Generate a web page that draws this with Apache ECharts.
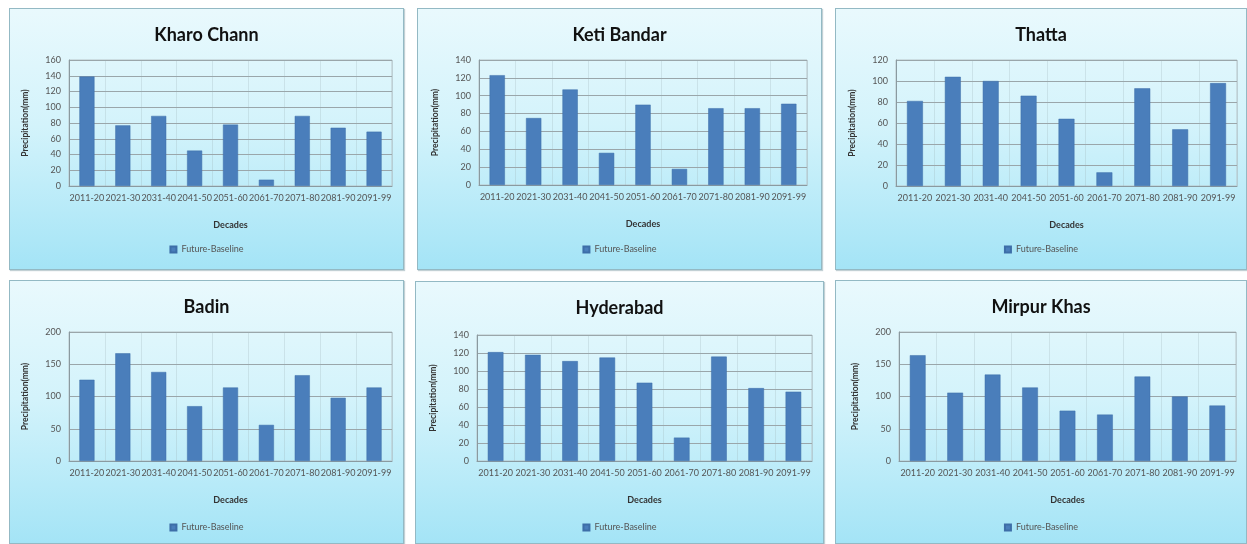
<!DOCTYPE html>
<html>
<head>
<meta charset="utf-8">
<script src="https://cdn.jsdelivr.net/npm/echarts@6/dist/echarts.min.js"></script>
<style>
  html, body { margin: 0; padding: 0; background: #ffffff; }
  body { width: 1247px; height: 544px; position: relative; overflow: hidden; }
  .panel {
    position: absolute;
    box-sizing: border-box;
    border: 1px solid #93b9c4;
    background: linear-gradient(to bottom, #e9f9fd 0%, #d3f3fb 45%, #a4e4f6 100%);
    box-shadow: 1px 1px 1px rgba(120,150,160,0.45);
  }
</style>
</head>
<body>
<div id="p1" class="panel" style="left:9px;top:8px;width:395px;height:262px;"></div>
<div id="p2" class="panel" style="left:417px;top:8px;width:405px;height:262px;"></div>
<div id="p3" class="panel" style="left:835px;top:8px;width:412px;height:262px;"></div>
<div id="p4" class="panel" style="left:9px;top:280px;width:395px;height:264px;"></div>
<div id="p5" class="panel" style="left:415px;top:281px;width:409px;height:263px;"></div>
<div id="p6" class="panel" style="left:835px;top:280px;width:412px;height:264px;"></div>
<script>
// Decade categories shared by every station
const categories = ['2011-20', '2021-30', '2031-40', '2041-50', '2051-60', '2061-70', '2071-80', '2081-90', '2091-99'];

// Future minus baseline precipitation (mm) per station
const kharoChann = [139, 77, 89, 45, 78, 8, 89, 74, 69];
const ketiBandar = [123, 75, 107, 36, 90, 18, 86, 86, 91];
const thatta     = [81, 104, 100, 86, 64, 13, 93, 54, 98];
const badin      = [126, 167, 138, 85, 114, 56, 133, 98, 114];
const hyderabad  = [121, 118, 111, 115, 87, 26, 116, 81, 77];
const mirpurKhas = [164, 106, 134, 114, 78, 72, 131, 100, 86];

// Station names and y-axis tick ranges
const stationNames = ['Kharo Chann', 'Keti Bandar', 'Thatta', 'Badin', 'Hyderabad', 'Mirpur Khas'];
const yMax      = [160, 140, 120, 200, 140, 200];
const yInterval = [20, 20, 20, 50, 20, 50];

const seriesName = 'Future-Baseline';
const stationData = [kharoChann, ketiBandar, thatta, badin, hyderabad, mirpurKhas];

// Plot-area placement inside each panel
const layouts = [
  { left: 59, right: 11, top: 51, bottom: 83, legendBottom: 10 },
  { left: 61, right: 14, top: 51, bottom: 84, legendBottom: 10 },
  { left: 60, right: 9,  top: 51, bottom: 83, legendBottom: 10 },
  { left: 59, right: 11, top: 51, bottom: 82, legendBottom: 6 },
  { left: 61, right: 11, top: 53, bottom: 82, legendBottom: 6 },
  { left: 63, right: 10, top: 51, bottom: 82, legendBottom: 6 }
];

const FONT = 'Lato, "Open Sans", sans-serif';

function buildOption(i) {
  const L = layouts[i];
  return {
    animation: false,
    textStyle: { fontFamily: FONT },
    title: {
      text: stationNames[i],
      left: 'center',
      top: 12,
      textStyle: { fontFamily: FONT, fontSize: 18, fontWeight: 'bold', color: '#111' }
    },
    legend: {
      data: [seriesName],
      bottom: L.legendBottom,
      left: 'center',
      itemWidth: 6,
      itemHeight: 6,
      itemGap: 4,
      icon: 'rect',
      textStyle: { fontFamily: FONT, fontSize: 9, color: '#555' }
    },
    grid: {
      left: L.left, right: L.right, top: L.top, bottom: L.bottom,
      show: true, borderColor: '#b8c4c8', borderWidth: 1, backgroundColor: 'transparent'
    },
    xAxis: {
      type: 'category',
      data: categories,
      name: 'Decades',
      nameLocation: 'middle',
      nameGap: 35,
      nameTextStyle: { fontFamily: FONT, fontSize: 9, fontWeight: 'bold', color: '#333' },
      axisLine: { lineStyle: { color: '#8a9aa0' } },
      axisTick: { show: false },
      axisLabel: {
        interval: 0, hideOverlap: false, fontSize: 9, color: '#555', margin: 8,
        fontFamily: FONT
      },
      splitLine: { show: true, interval: 0, lineStyle: { color: 'rgba(150,170,175,0.25)', width: 1 } }
    },
    yAxis: {
      type: 'value',
      min: 0,
      max: yMax[i],
      interval: yInterval[i],
      name: 'Precipitation(mm)',
      nameLocation: 'middle',
      nameRotate: 90,
      nameGap: 39,
      nameTextStyle: { fontFamily: FONT, fontSize: 8.5, fontWeight: 'bold', color: '#333' },
      axisLine: { show: true, lineStyle: { color: '#8a9aa0' } },
      axisTick: { show: false },
      axisLabel: { fontSize: 9, color: '#555', margin: 8, fontFamily: FONT },
      splitLine: { lineStyle: { color: '#9aa6aa', width: 1 } }
    },
    series: [{
      name: seriesName,
      type: 'bar',
      data: stationData[i],
      barCategoryGap: '58%',
      itemStyle: { color: '#4a7ebb', borderColor: '#3d6ea8', borderWidth: 0.5 }
    }]
  };
}

for (let i = 0; i < 6; i++) {
  const chart = echarts.init(document.getElementById('p' + (i + 1)), null, { renderer: 'canvas' });
  chart.setOption(buildOption(i));
}
</script>
</body>
</html>
